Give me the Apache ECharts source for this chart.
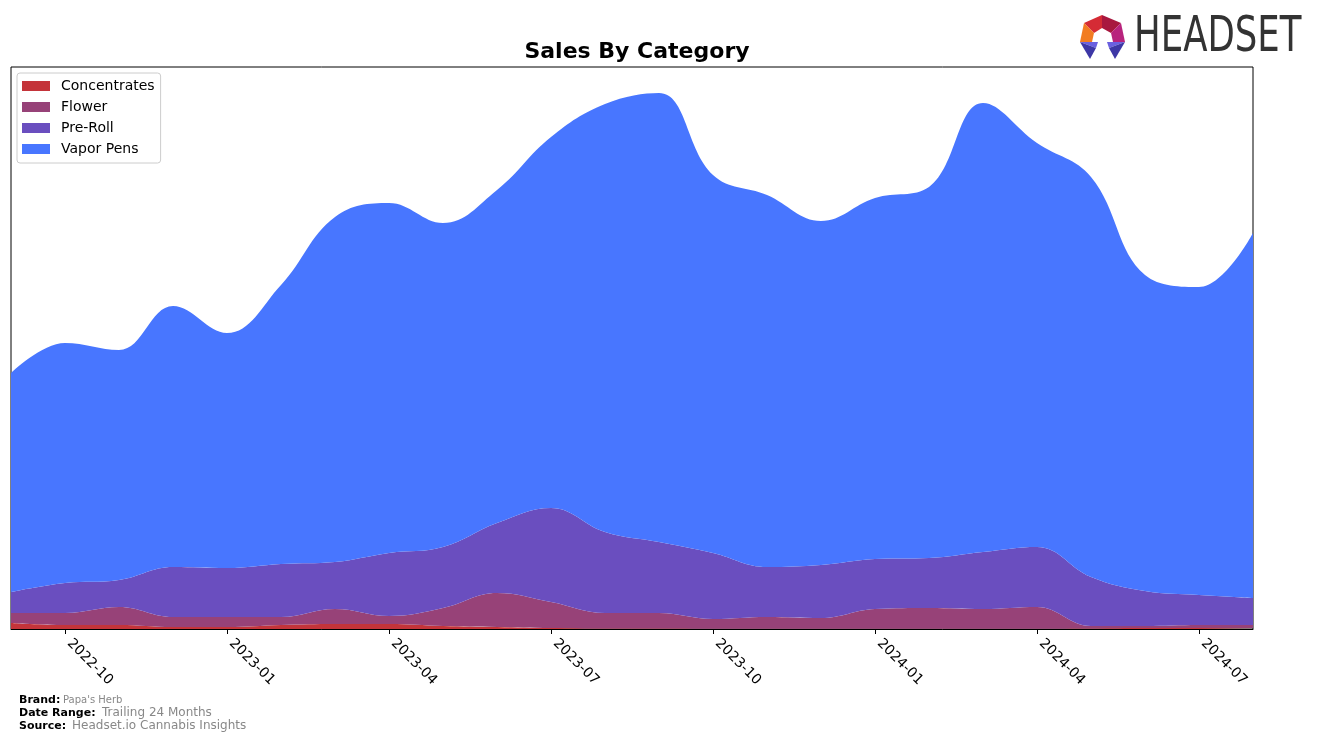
<!DOCTYPE html>
<html>
<head>
<meta charset="utf-8">
<script src="https://cdn.jsdelivr.net/npm/echarts@6/dist/echarts.min.js"></script>
<style>
html,body{margin:0;padding:0;background:#fff;}
#chart{width:1317px;height:743px;}
</style>
</head>
<body>
<div id="chart"></div>
<script>
const months = ['2022-09','2022-10','2022-11','2022-12','2023-01','2023-02','2023-03','2023-04','2023-05','2023-06','2023-07','2023-08','2023-09','2023-10','2023-11','2023-12','2024-01','2024-02','2024-03','2024-04','2024-05','2024-06','2024-07','2024-08'];
const tickLabels = ['2022-10','2023-01','2023-04','2023-07','2023-10','2024-01','2024-04','2024-07'];
const concentrates = [6,4,4,2,2,4,5,5,3,2,1,0.5,0.5,0.3,0.3,0.3,0.3,0.3,0.3,0.3,0.5,1,1,1];
const flower = [10,12,18,10,10,8,15,8,18,34,26,15.5,15.5,9.7,11.7,10.7,19.7,20.7,19.7,21.7,2.5,2,3,3];
const preRoll = [21,30,27,50,49,53,47,63,61,70,94,81,71,66,50,53,50,50,57,60,49,35,30,27];
const vaporPens = [219,240,230,261,235,279,345,350,324,333,371,428,449,378,372,344,361,371,449,404,400,316,308,365];

const colors = {Concentrates:'#c4343a', Flower:'#974278', 'Pre-Roll':'#6a4ebf', 'Vapor Pens':'#4876ff'};
const seriesData = [['Concentrates',concentrates],['Flower',flower],['Pre-Roll',preRoll],['Vapor Pens',vaporPens]];

const chart = echarts.init(document.getElementById('chart'), null, {renderer:'canvas'});
const isTick = (i) => tickLabels.indexOf(months[i]) >= 0;

chart.setOption({
  animation:false,
  textStyle:{fontFamily:'DejaVu Sans'},
  title:{text:'Sales By Category', left:632, textAlign:'center', top:36,
    textStyle:{fontFamily:'DejaVu Sans', fontWeight:'bold', fontSize:22, color:'#000'}},
  legend:{
    orient:'vertical', left:17, top:73, padding:[6,6,7,5],
    itemWidth:28, itemHeight:10, itemGap:7,
    borderColor:'#cccccc', borderWidth:1, borderRadius:3,
    icon:'rect',
    textStyle:{fontFamily:'DejaVu Sans', fontSize:14, color:'#000', lineHeight:14, padding:[0,0,0,6]},
    data:seriesData.map(s=>s[0])
  },
  grid:{left:11, right:64, top:67, bottom:114, show:true, borderColor:'#000', borderWidth:1, backgroundColor:'transparent'},
  xAxis:{
    type:'category', data:months, boundaryGap:false,
    axisLine:{show:true, lineStyle:{color:'#000', width:1}},
    axisTick:{show:true, length:5, inside:false, interval:(i)=>isTick(i), lineStyle:{color:'#000'}},
    axisLabel:{show:true, rotate:-45, interval:(i)=>isTick(i), fontFamily:'DejaVu Sans', fontSize:14, color:'#000', margin:8, padding:[0,0,0,6]},
    splitLine:{show:false}
  },
  yAxis:{type:'value', min:0, max:562, show:false, splitLine:{show:false}},
  series: seriesData.map(([name,vals])=>({
    name, type:'line', stack:'total', data:vals, smooth:0.4, symbol:'none', showSymbol:false,
    lineStyle:{width:0}, itemStyle:{color:colors[name]},
    areaStyle:{color:colors[name], opacity:1}
  })),
  graphic:[
    {type:'polygon', shape:{points:[[1084,23],[1102,15],[1102,28],[1094,33]]}, style:{fill:'#d52b35'}},
    {type:'polygon', shape:{points:[[1102,15],[1121,23],[1111,33],[1102,28]]}, style:{fill:'#a8183f'}},
    {type:'polygon', shape:{points:[[1121,23],[1125,42],[1113,42],[1111,33]]}, style:{fill:'#b8237d'}},
    {type:'polygon', shape:{points:[[1084,23],[1094,33],[1092,42],[1080,42]]}, style:{fill:'#f27c22'}},
    {type:'polygon', shape:{points:[[1080,42],[1098,42],[1096,48]]}, style:{fill:'#6a60e0'}},
    {type:'polygon', shape:{points:[[1080,42],[1096,48],[1090,59]]}, style:{fill:'#3d37a6'}},
    {type:'polygon', shape:{points:[[1125,42],[1107,42],[1109,48]]}, style:{fill:'#6a60e0'}},
    {type:'polygon', shape:{points:[[1125,42],[1109,48],[1115,59]]}, style:{fill:'#3d37a6'}},
    {type:'text', x:1134, y:38, scaleX:0.725, style:{text:'HEADSET', fill:'#333', font:'normal 49px "DejaVu Sans"', textVerticalAlign:'middle'}},
    {type:'text', x:19, y:700, style:{text:'Brand:', fill:'#000', font:'bold 11px "DejaVu Sans"', textVerticalAlign:'middle'}},
    {type:'text', x:63, y:700, style:{text:"Papa's Herb", fill:'#888', font:'normal 10px "DejaVu Sans"', textVerticalAlign:'middle'}},
    {type:'text', x:19, y:713, style:{text:'Date Range:', fill:'#000', font:'bold 11px "DejaVu Sans"', textVerticalAlign:'middle'}},
    {type:'text', x:102, y:713, style:{text:'Trailing 24 Months', fill:'#888', font:'normal 12px "DejaVu Sans"', textVerticalAlign:'middle'}},
    {type:'text', x:19, y:726, style:{text:'Source:', fill:'#000', font:'bold 11px "DejaVu Sans"', textVerticalAlign:'middle'}},
    {type:'text', x:72, y:726, style:{text:'Headset.io Cannabis Insights', fill:'#888', font:'normal 12px "DejaVu Sans"', textVerticalAlign:'middle'}}
  ]
});
</script>
</body>
</html>
